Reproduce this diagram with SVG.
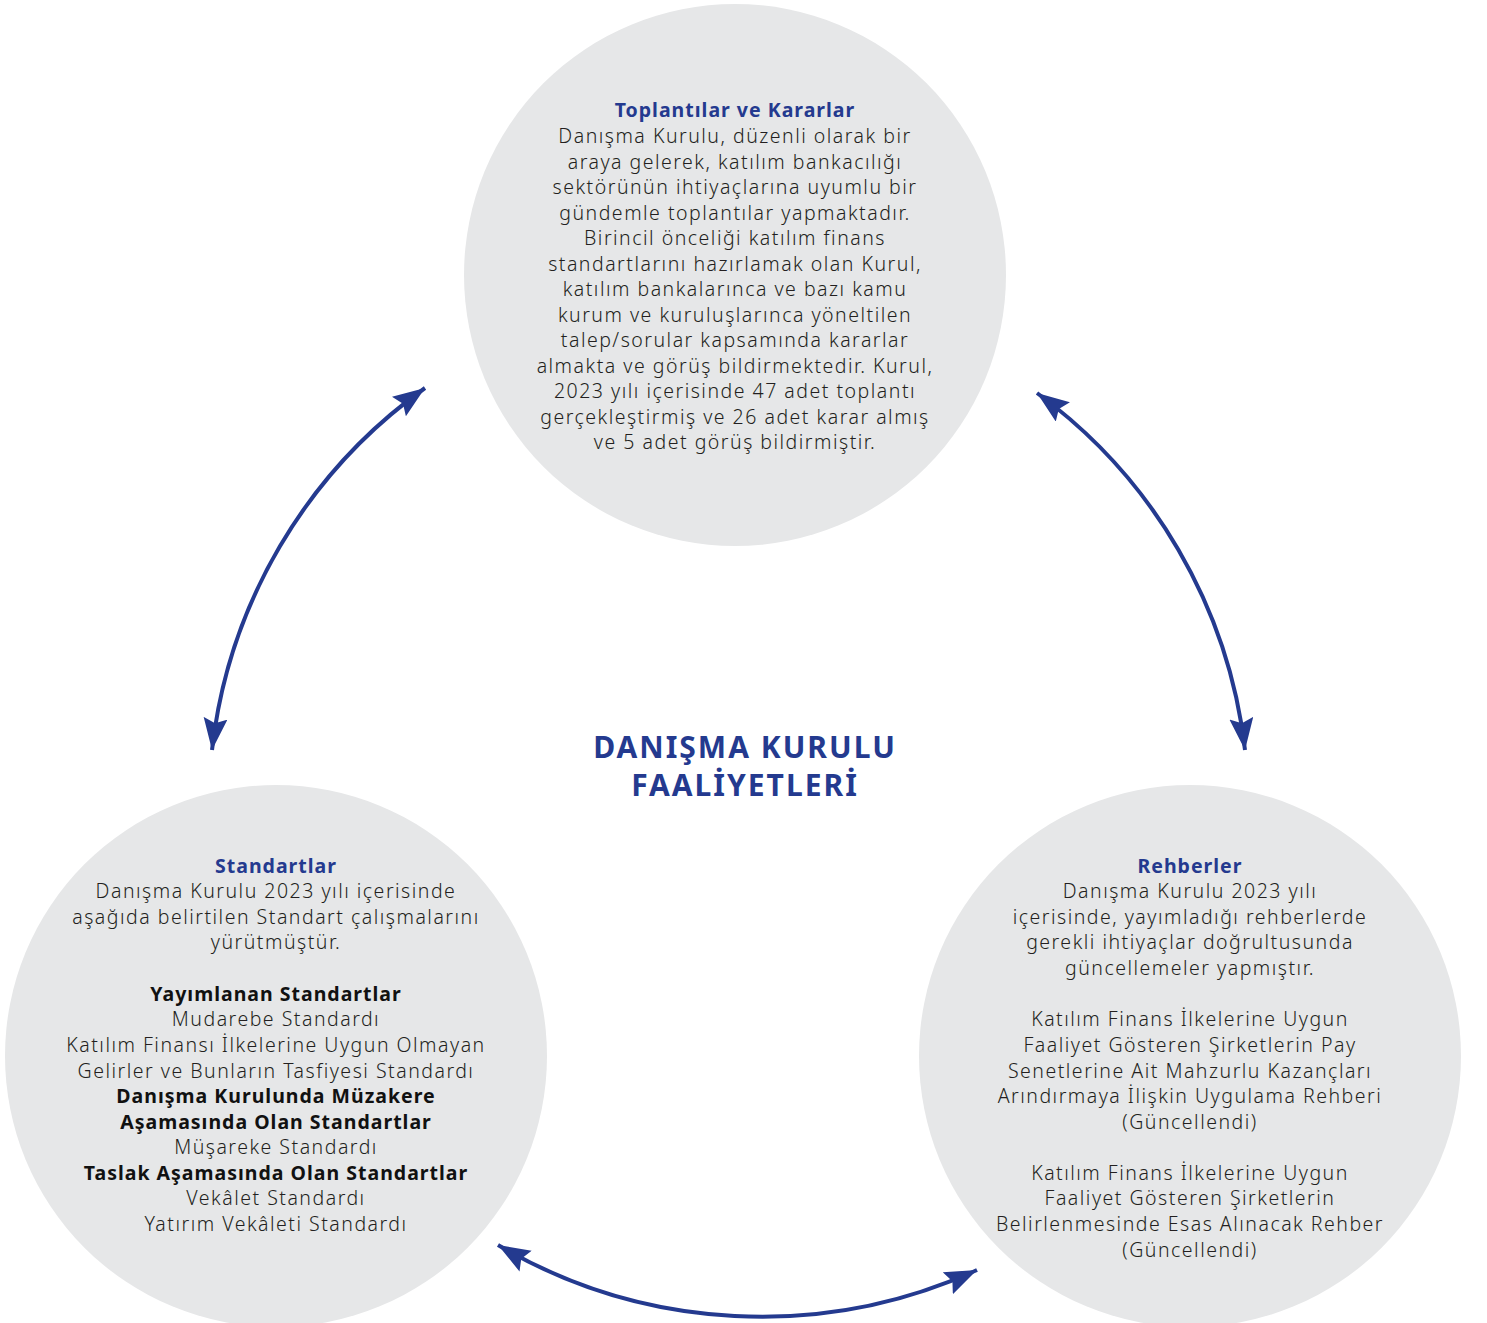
<svg xmlns="http://www.w3.org/2000/svg" width="1487" height="1323" viewBox="0 0 1487 1323">
<defs>
<style>
.circ{fill:#e6e7e8}
.t{font-family:"Noto Sans","Liberation Sans",sans-serif;font-size:19.5px;fill:#231f20;text-anchor:middle;font-weight:300;letter-spacing:1.5px}
.h{font-family:"Noto Sans","Liberation Sans",sans-serif;font-size:19.5px;fill:#243a8f;text-anchor:middle;font-weight:700;letter-spacing:1px}
.b{font-family:"Noto Sans","Liberation Sans",sans-serif;font-size:19.5px;fill:#111;text-anchor:middle;font-weight:700;letter-spacing:1px}
.main{font-family:"Noto Sans","Liberation Sans",sans-serif;font-size:30px;fill:#243a8f;text-anchor:middle;font-weight:700;letter-spacing:2px}
.conn{fill:none;stroke:#243a8f;stroke-width:4}
</style>
<marker id="ah" markerUnits="userSpaceOnUse" markerWidth="34" markerHeight="26" refX="32" refY="12" orient="auto-start-reverse" viewBox="0 0 34 26">
<path d="M0,0 L32,12 L0,24 L5,12 z" fill="#243a8f"/>
</marker>
</defs>
<rect width="1487" height="1323" fill="#ffffff"/>
<g id="connectors">
<path class="conn" d="M425,388 A515 515 0 0 0 212,750" marker-start="url(#ah)" marker-end="url(#ah)"/>
<path class="conn" d="M1037,393 A515 515 0 0 1 1245,750" marker-start="url(#ah)" marker-end="url(#ah)"/>
<path class="conn" d="M498,1245 A520 520 0 0 0 977,1270" marker-start="url(#ah)" marker-end="url(#ah)"/>
</g>
<g id="node-toplantilar">
<circle class="circ" cx="735" cy="275" r="271"/>
<text class="h" x="735" y="117">Toplantılar ve Kararlar</text>
<text class="t" x="735" y="143">Danışma Kurulu, düzenli olarak bir</text>
<text class="t" x="735" y="168.5">araya gelerek, katılım bankacılığı</text>
<text class="t" x="735" y="194">sektörünün ihtiyaçlarına uyumlu bir</text>
<text class="t" x="735" y="219.5">gündemle toplantılar yapmaktadır.</text>
<text class="t" x="735" y="245">Birincil önceliği katılım finans</text>
<text class="t" x="735" y="270.5">standartlarını hazırlamak olan Kurul,</text>
<text class="t" x="735" y="296">katılım bankalarınca ve bazı kamu</text>
<text class="t" x="735" y="321.5">kurum ve kuruluşlarınca yöneltilen</text>
<text class="t" x="735" y="347">talep/sorular kapsamında kararlar</text>
<text class="t" x="735" y="372.5">almakta ve görüş bildirmektedir. Kurul,</text>
<text class="t" x="735" y="398">2023 yılı içerisinde 47 adet toplantı</text>
<text class="t" x="735" y="423.5">gerçekleştirmiş ve 26 adet karar almış</text>
<text class="t" x="735" y="449">ve 5 adet görüş bildirmiştir.</text>
</g>
<g id="node-center">
<text class="main" x="745" y="758">DANIŞMA KURULU</text>
<text class="main" x="745" y="796">FAALİYETLERİ</text>
</g>
<g id="node-standartlar">
<circle class="circ" cx="276" cy="1056" r="271"/>
<text class="h" x="276" y="873">Standartlar</text>
<text class="t" x="276" y="898">Danışma Kurulu 2023 yılı içerisinde</text>
<text class="t" x="276" y="924">aşağıda belirtilen Standart çalışmalarını</text>
<text class="t" x="276" y="949">yürütmüştür.</text>
<text class="b" x="276" y="1001">Yayımlanan Standartlar</text>
<text class="t" x="276" y="1026">Mudarebe Standardı</text>
<text class="t" x="276" y="1052">Katılım Finansı İlkelerine Uygun Olmayan</text>
<text class="t" x="276" y="1078">Gelirler ve Bunların Tasfiyesi Standardı</text>
<text class="b" x="276" y="1103">Danışma Kurulunda Müzakere</text>
<text class="b" x="276" y="1129">Aşamasında Olan Standartlar</text>
<text class="t" x="276" y="1154">Müşareke Standardı</text>
<text class="b" x="276" y="1180">Taslak Aşamasında Olan Standartlar</text>
<text class="t" x="276" y="1205">Vekâlet Standardı</text>
<text class="t" x="276" y="1231">Yatırım Vekâleti Standardı</text>
</g>
<g id="node-rehberler">
<circle class="circ" cx="1190" cy="1056" r="271"/>
<text class="h" x="1190" y="873">Rehberler</text>
<text class="t" x="1190" y="898">Danışma Kurulu 2023 yılı</text>
<text class="t" x="1190" y="924">içerisinde, yayımladığı rehberlerde</text>
<text class="t" x="1190" y="949">gerekli ihtiyaçlar doğrultusunda</text>
<text class="t" x="1190" y="975">güncellemeler yapmıştır.</text>
<text class="t" x="1190" y="1026">Katılım Finans İlkelerine Uygun</text>
<text class="t" x="1190" y="1052">Faaliyet Gösteren Şirketlerin Pay</text>
<text class="t" x="1190" y="1078">Senetlerine Ait Mahzurlu Kazançları</text>
<text class="t" x="1190" y="1103">Arındırmaya İlişkin Uygulama Rehberi</text>
<text class="t" x="1190" y="1129">(Güncellendi)</text>
<text class="t" x="1190" y="1180">Katılım Finans İlkelerine Uygun</text>
<text class="t" x="1190" y="1205">Faaliyet Gösteren Şirketlerin</text>
<text class="t" x="1190" y="1231">Belirlenmesinde Esas Alınacak Rehber</text>
<text class="t" x="1190" y="1257">(Güncellendi)</text>
</g>
</svg>
